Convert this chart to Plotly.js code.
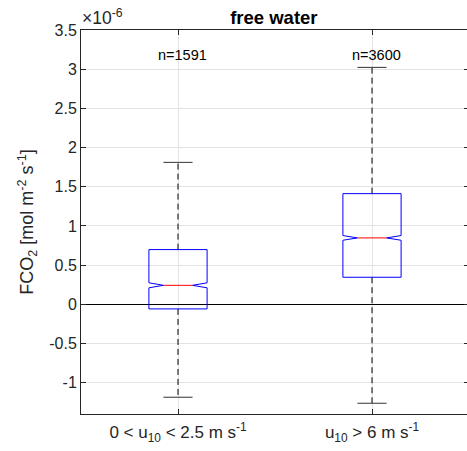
<!DOCTYPE html>
<html>
<head>
<meta charset="utf-8">
<script src="https://cdn.plot.ly/plotly-3.0.1.min.js"></script>
<style>
html,body{margin:0;padding:0;overflow:hidden;background:#fff;}
#chart{width:470px;height:451px;}
</style>
</head>
<body>
<div id="chart"></div>
<script>
// Data (values in units of 1e-6 mol m^-2 s^-1)
const categories = ['0 &lt; u<sub>10</sub> &lt; 2.5 m s<sup>-1</sup>', 'u<sub>10</sub> &gt; 6 m s<sup>-1</sup>'];
const positions = [1, 2];
const q1 = [-0.059, 0.345];
const medians = [0.242, 0.847];
const q3 = [0.698, 1.412];
const notchLo = [0.210, 0.817];
const notchHi = [0.274, 0.877];
const whiskerLo = [-1.186, -1.263];
const whiskerHi = [1.811, 3.023];
const counts = [1591, 3600];
const yTickVals = [-1, -0.5, 0, 0.5, 1, 1.5, 2, 2.5, 3, 3.5];
const yTickText = ['-1', '-0.5', '0', '0.5', '1', '1.5', '2', '2.5', '3', '3.5'];

const halfW = 0.15;
const FONT = 'Liberation Sans, Arial, Helvetica, sans-serif';
const traces = [];

positions.forEach((c, i) => {
  traces.push({
    type: 'scatter', mode: 'lines', hoverinfo: 'skip', showlegend: false,
    x: [c, c, null, c, c],
    y: [q3[i], whiskerHi[i], null, q1[i], whiskerLo[i]],
    line: {color: '#000', width: 1, dash: '6px,4px'}
  });
  traces.push({
    type: 'scatter', mode: 'lines', hoverinfo: 'skip', showlegend: false,
    x: [c - halfW / 2, c + halfW / 2, null, c - halfW / 2, c + halfW / 2],
    y: [whiskerHi[i], whiskerHi[i], null, whiskerLo[i], whiskerLo[i]],
    line: {color: '#333', width: 1}
  });
  traces.push({
    type: 'scatter', mode: 'lines', hoverinfo: 'skip', showlegend: false,
    x: [c - halfW, c + halfW, c + halfW, c + halfW / 2, c + halfW, c + halfW,
        c - halfW, c - halfW, c - halfW / 2, c - halfW, c - halfW],
    y: [q1[i], q1[i], notchLo[i], medians[i], notchHi[i], q3[i],
        q3[i], notchHi[i], medians[i], notchLo[i], q1[i]],
    line: {color: '#0000ff', width: 1}
  });
  traces.push({
    type: 'scatter', mode: 'lines', hoverinfo: 'skip', showlegend: false,
    x: [c - halfW / 2, c + halfW / 2],
    y: [medians[i], medians[i]],
    line: {color: '#ff0000', width: 1}
  });
});

const annotations = positions.map((c, i) => ({
  x: c + 0.025, y: 3.185, xref: 'x', yref: 'y',
  text: 'n=' + counts[i], showarrow: false,
  font: {family: FONT, size: 14.5, color: '#000'},
  xanchor: 'center', yanchor: 'middle'
}));
annotations.push({
  x: 0, y: 1, xref: 'paper', yref: 'paper', xanchor: 'left', yanchor: 'bottom',
  text: '×10<sup>-6</sup>', showarrow: false, xshift: -1, yshift: 0,
  font: {family: FONT, size: 17.5, color: '#262626'}
});

const layout = {
  width: 470, height: 451,
  margin: {l: 81, r: 1, t: 30, b: 37},
  paper_bgcolor: '#fff', plot_bgcolor: '#fff',
  showlegend: false,
  title: {text: '<b>free water</b>', font: {family: FONT, size: 18.5, color: '#000'},
          xref: 'paper', x: 0.497, xanchor: 'center', y: 0.962, yanchor: 'middle'},
  xaxis: {
    range: [0.5, 2.5], tickvals: positions, ticktext: categories,
    ticks: 'inside', ticklen: 5, tickcolor: '#262626', mirror: 'ticks',
    showline: true, linecolor: '#262626', linewidth: 1,
    showgrid: true, gridcolor: '#e3e3e3', gridwidth: 1, zeroline: false,
    ticklabelstandoff: 3,
    tickfont: {family: FONT, size: 17, color: '#262626'}
  },
  yaxis: {
    range: [-1.4, 3.5], tickvals: yTickVals, ticktext: yTickText,
    ticks: 'inside', ticklen: 5, tickcolor: '#262626', mirror: 'ticks',
    showline: true, linecolor: '#262626', linewidth: 1,
    showgrid: true, gridcolor: '#e3e3e3', gridwidth: 1,
    zeroline: true, zerolinecolor: '#000', zerolinewidth: 1,
    tickfont: {family: FONT, size: 16, color: '#262626'},
    title: {text: 'FCO<sub>2</sub> [mol m<sup>-2</sup> s<sup>-1</sup>]',
            font: {family: FONT, size: 18, color: '#262626'}, standoff: 10}
  },
  annotations: annotations
};

Plotly.newPlot('chart', traces, layout, {staticPlot: true, displayModeBar: false});
</script>
</body>
</html>
